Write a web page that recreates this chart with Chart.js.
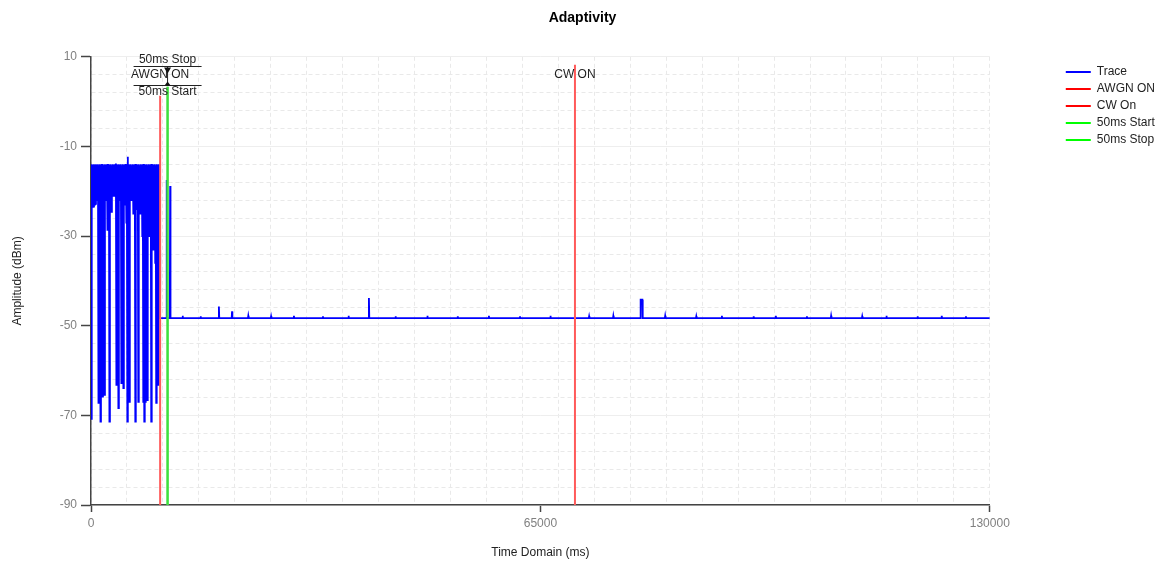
<!DOCTYPE html>
<html><head><meta charset="utf-8">
<script src="https://cdn.jsdelivr.net/npm/chart.js@4/dist/chart.umd.min.js"></script>
<style>html,body{margin:0;padding:0;background:#fff}#wrap{width:1172px;height:568px}</style>
</head><body><div id="wrap"><canvas id="c" width="1172" height="568"></canvas></div>
<script>
const FONT = '"Liberation Sans", Arial, sans-serif';

const chartTitle = 'Adaptivity';
const xAxisTitle = 'Time Domain (ms)';
const yAxisTitle = 'Amplitude (dBm)';
const xTickLabels = [0, 65000, 130000];
const yTickLabels = [-90, -70, -50, -30, -10, 10];
const xGridStep = 5200;
const yGridStep = 4;
const seriesNames = ['Trace', 'AWGN ON', 'CW On', '50ms Start', '50ms Stop'];

// Trace: noisy section (sampled every noiseSamplePeriod ms from 0 ms)
const noiseSamplePeriod = 72;
const noiseValues = [
  -14.2,-71.0, -14.0,-23.5, -14.1,-23.4, -14.0,-23.0, -14.2,-22.8, -14.0,-22.0, -14.1,-21.8,
  -14.0,-67.2, -14.2,-21.0, -14.0,-71.4, -14.1,-21.2, -13.9,-65.8, -14.0,-21.5, -14.2,-65.4,
  -14.0,-21.0, -14.1,-22.0, -14.0,-28.6, -13.9,-21.0, -14.0,-71.4, -14.1,-22.0, -14.0,-24.6,
  -14.2,-21.0, -14.0,-20.2, -14.1,-21.0, -14.0,-20.4, -13.8,-63.2, -14.0,-21.0, -14.1,-68.4,
  -14.0,-22.0, -14.1,-21.0, -14.0,-62.8, -14.2,-22.0, -14.0,-63.9, -14.1,-23.0, -14.0,-22.0,
  -13.9,-27.0, -14.0,-71.4, -12.3,-64.0, -14.0,-67.0, -14.1,-22.0, -14.0,-21.0, -14.2,-22.0,
  -14.0,-25.0, -14.1,-23.0, -14.0,-71.4, -13.9,-23.0, -14.0,-24.0, -14.1,-67.0, -14.0,-23.0,
  -14.2,-25.0, -14.0,-22.0, -14.1,-30.0, -14.0,-67.0, -13.9,-71.4, -14.0,-67.0, -14.1,-25.0,
  -14.0,-66.6, -14.2,-28.0, -14.0,-30.0, -14.1,-27.0, -14.0,-71.4, -13.9,-33.0, -14.0,-30.0,
  -14.1,-33.0, -14.0,-36.0, -14.2,-67.2, -14.0,-37.0, -14.1,-63.2, -14.0,-37.0, -14.0,-35.0
];
// Trace: remaining section as [time ms, dBm]
const traceTail = [
  [9990,-14.0],[10000,-48.3],
  [10900,-48.3],[10950,-17.5],[11000,-48.3],
  [11400,-48.3],[11450,-18.8],[11500,-48.3],
  [13200,-48.3],[13250,-47.8],[13300,-48.3],
  [15800,-48.3],[15850,-47.9],[15900,-48.3],
  [18450,-48.3],[18500,-45.7],[18550,-48.3],
  [20350,-48.3],[20400,-46.8],[20450,-48.3],
  [22700,-48.3],[22750,-47.8],[22800,-48.3],
  [26000,-48.3],[26050,-47.9],[26100,-48.3],
  [29300,-48.3],[29350,-47.8],[29400,-48.3],
  [33500,-48.3],[33550,-47.9],[33600,-48.3],
  [37200,-48.3],[37250,-47.8],[37300,-48.3],
  [40150,-48.3],[40200,-43.8],[40250,-48.3],
  [44000,-48.3],[44050,-47.9],[44100,-48.3],
  [48600,-48.3],[48650,-47.8],[48700,-48.3],
  [53000,-48.3],[53050,-47.9],[53100,-48.3],
  [57500,-48.3],[57550,-47.8],[57600,-48.3],
  [62000,-48.3],[62050,-47.9],[62100,-48.3],
  [66400,-48.3],[66450,-47.8],[66500,-48.3],
  [72000,-48.3],[72050,-47.9],[72100,-48.3],
  [75500,-48.3],[75550,-47.8],[75600,-48.3],
  [79450,-48.3],[79500,-44.2],[79750,-44.2],[79800,-48.3],
  [83000,-48.3],[83050,-47.8],[83100,-48.3],
  [87500,-48.3],[87550,-47.9],[87600,-48.3],
  [91200,-48.3],[91250,-47.8],[91300,-48.3],
  [95800,-48.3],[95850,-47.9],[95900,-48.3],
  [99000,-48.3],[99050,-47.8],[99100,-48.3],
  [103500,-48.3],[103550,-47.9],[103600,-48.3],
  [107000,-48.3],[107050,-47.8],[107100,-48.3],
  [111500,-48.3],[111550,-47.9],[111600,-48.3],
  [115000,-48.3],[115050,-47.8],[115100,-48.3],
  [119500,-48.3],[119550,-47.9],[119600,-48.3],
  [123000,-48.3],[123050,-47.8],[123100,-48.3],
  [126500,-48.3],[126550,-47.9],[126600,-48.3],
  [130000,-48.3]
];

// Marker lines: time (ms) and top value (dBm); they run down to the axis minimum
const markerTimes = [10000, 70000, 11050, 11100];
const markerTops = [1.3, 8.2, 3.3, 3.3];
const yMin = -90, yMax = 10, xMin = 0, xMax = 130000;

const traceData = noiseValues.map((v, i) => ({x: i * noiseSamplePeriod, y: v}))
  .concat(traceTail.map(p => ({x: p[0], y: p[1]})));

const markerColors = ['#ff5a5a', '#ff5a5a', '#3ee03e', '#3ee03e'];
const legendColors = ['#0000ff', '#ff0000', '#ff0000', '#00ff00', '#00ff00'];

const datasets = [{
  label: seriesNames[0], data: traceData, borderColor: '#0000ff', borderWidth: 1.8,
  pointRadius: 0, tension: 0, order: 10, legendColor: legendColors[0]
}];
markerTimes.forEach((t, i) => {
  datasets.push({
    label: seriesNames[i + 1],
    data: [{x: t, y: markerTops[i]}, {x: t, y: yMin}],
    borderColor: markerColors[i], borderWidth: 2, pointRadius: 0, order: 1,
    legendColor: legendColors[i + 1]
  });
});

const xGrid = [];
for (let v = xMin; v <= xMax + 1; v += xGridStep) xGrid.push(v);
xTickLabels.forEach(v => { if (!xGrid.includes(v)) xGrid.push(v); });
xGrid.sort((a, b) => a - b);
const yGrid = [];
for (let v = yMin; v <= yMax + 0.001; v += yGridStep) yGrid.push(v);

const markerText = {
  id: 'markerText',
  afterDatasetsDraw(chart) {
    const {ctx, scales: {x, y}} = chart;
    ctx.save();
    ctx.font = '12px ' + FONT;
    ctx.fillStyle = '#1e1e1e';
    ctx.textAlign = 'center';
    ctx.textBaseline = 'middle';
    const xm = x.getPixelForValue((markerTimes[2] + markerTimes[3]) / 2);
    ctx.fillText('CW ON', x.getPixelForValue(markerTimes[1]), y.getPixelForValue(5.9));
    ctx.fillText('AWGN ON', x.getPixelForValue(markerTimes[0]), y.getPixelForValue(5.9));
    ctx.fillText('50ms Stop', xm, y.getPixelForValue(9.4));
    ctx.fillText('50ms Start', xm, y.getPixelForValue(2.2));
    const yU = Math.round(y.getPixelForValue(7.9)) + 0.5;
    const yO = Math.round(y.getPixelForValue(3.75)) + 0.5;
    ctx.strokeStyle = '#222';
    ctx.lineWidth = 1;
    ctx.beginPath();
    ctx.moveTo(xm - 34, yU); ctx.lineTo(xm + 34, yU);
    ctx.moveTo(xm - 34, yO); ctx.lineTo(xm + 34, yO);
    ctx.moveTo(xm, yU); ctx.lineTo(xm, yO);
    ctx.stroke();
    ctx.fillStyle = '#111';
    ctx.beginPath();
    ctx.moveTo(xm - 3.5, yU + 1); ctx.lineTo(xm + 3.5, yU + 1); ctx.lineTo(xm, yU + 7); ctx.closePath();
    ctx.fill();
    ctx.beginPath();
    ctx.moveTo(xm - 3, yO); ctx.lineTo(xm + 3, yO); ctx.lineTo(xm, yO - 4); ctx.closePath();
    ctx.fill();
    ctx.restore();
  }
};

new Chart(document.getElementById('c'), {
  type: 'line',
  data: {datasets},
  plugins: [markerText],
  options: {
    responsive: false,
    animation: false,
    events: [],
    parsing: true,
    layout: {padding: {right: 7}},
    plugins: {
      title: {
        display: true, text: chartTitle, color: '#000',
        font: {family: FONT, size: 14, weight: 'bold'},
        padding: {top: 10, bottom: 30}
      },
      legend: {
        position: 'right', align: 'start', fullSize: false,
        title: {display: true, text: ' ', font: {family: FONT, size: 1}, padding: {top: 1, bottom: 2}},
        labels: {
          boxWidth: 25, boxHeight: 2, padding: 5, color: '#222',
          font: {family: FONT, size: 12},
          generateLabels(chart) {
            return chart.data.datasets.map((ds, i) => ({
              text: ds.label, fillStyle: ds.legendColor, strokeStyle: ds.legendColor,
              lineWidth: 0, hidden: false, datasetIndex: i, fontColor: '#222'
            }));
          }
        }
      },
      tooltip: {enabled: false}
    },
    scales: {
      x: {
        type: 'linear', min: xMin, max: xMax,
        afterBuildTicks(s) { s.ticks = xGrid.map(v => ({value: v})); },
        afterFit(s) { s.height = 63; },
        ticks: {
          autoSkip: false, maxRotation: 0, padding: 4, color: '#808080',
          font: {family: FONT, size: 12},
          callback: v => xTickLabels.includes(v) ? String(v) : ''
        },
        grid: {
          color: c => (c.tick && c.tick.value === 65000) ? 'rgba(0,0,0,0)' : '#e9e9e9',
          lineWidth: 1, tickLength: 7, tickWidth: 1.5,
          tickColor: c => (c.tick && xTickLabels.includes(c.tick.value)) ? '#444' : 'rgba(0,0,0,0)'
        },
        border: {display: true, color: '#444', width: 1.5, dash: [4, 3]},
        title: {display: true, text: xAxisTitle, color: '#222', font: {family: FONT, size: 12}, padding: {top: 0, bottom: 8}}
      },
      y: {
        type: 'linear', min: yMin, max: yMax, position: 'left',
        afterBuildTicks(s) { s.ticks = yGrid.map(v => ({value: v})); },
        afterFit(s) { s.width = 91; },
        ticks: {
          autoSkip: false, padding: 4, color: '#808080',
          font: {family: FONT, size: 12},
          callback: v => yTickLabels.includes(v) ? String(v) : ''
        },
        grid: {
          color: c => (c.tick && yTickLabels.includes(c.tick.value)) ? '#eeeeee' : '#e9e9e9',
          lineWidth: 1, tickLength: 10, tickWidth: 1.5,
          tickColor: c => (c.tick && yTickLabels.includes(c.tick.value)) ? '#444' : 'rgba(0,0,0,0)'
        },
        border: {display: true, color: '#444', width: 1.5,
          dash: c => (c.tick && yTickLabels.includes(c.tick.value)) ? [] : [4, 3]},
        title: {display: true, text: yAxisTitle, color: '#222', font: {family: FONT, size: 12}, padding: {top: 10, bottom: 0}}
      },
      yPad: {
        type: 'linear', position: 'right', display: true,
        ticks: {display: false}, grid: {display: false}, border: {display: false},
        afterFit(s) { s.width = 71; }
      }
    }
  }
});
</script>
</body></html>
